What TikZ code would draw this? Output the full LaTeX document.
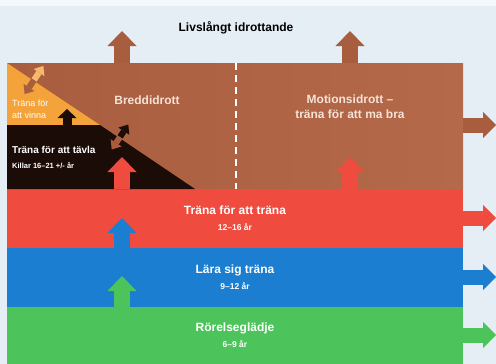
\documentclass[tikz,border=0pt]{standalone}
\usepackage{fontspec}
\setmainfont{Liberation Sans}
\usetikzlibrary{arrows.meta}
\definecolor{bakgrund}{HTML}{E6EEF5}
\definecolor{brun}{HTML}{A95D3F}
\definecolor{ljusbrun}{HTML}{B4694A}
\definecolor{rod}{HTML}{F04B3F}
\definecolor{bla}{HTML}{1B7ED0}
\definecolor{gron}{HTML}{4DC45B}
\definecolor{vinnaorange}{HTML}{F4A23A}
\definecolor{tavlasvart}{HTML}{1C0C08}
\definecolor{ljustext}{HTML}{F6E2D6}
\begin{document}
\begin{tikzpicture}[x=1pt,y=-1pt,
  band/.style={anchor=north west,minimum width=456pt,inner sep=0pt,outer sep=0pt,
    text=white,font=\bfseries\fontsize{12}{14}\selectfont,align=center},
  bigarr/.style={line width=16pt,-{Triangle[width=29pt,length=15pt,line width=0pt]}},
  midarr/.style={line width=9pt,-{Triangle[width=19pt,length=9pt,line width=0pt]}},
  sidearr/.style={line width=15pt,-{Triangle[width=26pt,length=13pt,line width=0pt]}},
  smallarr/.style={line width=6pt,-{Triangle[width=13pt,length=8pt,line width=0pt]}},
  brunlabel/.style={text=ljustext,font=\bfseries\fontsize{12}{15}\selectfont,align=center},
  smatext/.style={text=white,anchor=west,inner sep=0pt}]
\useasboundingbox (0,0) rectangle (496,364);
\fill[bakgrund] (0,0) rectangle (496,364);
\fill[white!60!bakgrund] (0,0) rectangle (496,6);
% bands
\node[band,left color=brun,right color=ljusbrun,minimum height=126pt] (bredd) at (7,63) {};
\node[band,fill=rod,minimum height=59pt] (tranatrana) at (7,189)
  {Träna för att träna\\[2pt]{\fontsize{8.5}{10}\selectfont 12--16 år}};
\node[band,fill=bla,minimum height=59pt] (lara) at (7,248)
  {Lära sig träna\\[2pt]{\fontsize{8.5}{10}\selectfont 9--12 år}};
\node[band,fill=gron,minimum height=57pt] (rorelse) at (7,307)
  {Rörelseglädje\\[2pt]{\fontsize{8.5}{10}\selectfont 6--9 år}};
% elit triangle
\fill[vinnaorange] (7,63) -- (100,125) -- (7,125) -- cycle;
\fill[tavlasvart] (7,125) -- (100,125) -- (195,189) -- (7,189) -- cycle;
\draw[white,line width=1.3pt,dash pattern=on 7pt off 5pt] (236,63) -- (236,189);
% texts
\node (titel) at (236,28) {\bfseries\fontsize{12}{14}\selectfont Livslångt idrottande};
\node[brunlabel] (bredtext) at (147,100) {Breddidrott};
\node[brunlabel] (motion) at (350,107) {Motionsidrott –\\träna för att ma bra};
\node[smatext,align=left,font=\fontsize{9}{12}\selectfont] (vinna) at (12,109) {Träna för\\att vinna};
\node[smatext,font=\bfseries\fontsize{10}{12}\selectfont] (tavla) at (12,150) {Träna för att tävla};
\node[smatext,font=\bfseries\fontsize{7.5}{9}\selectfont] (killar) at (12,165) {Killar 16--21 +/- år};
% arrow ends
\coordinate (bUa) at (122,31);
\coordinate (bUb) at (350,31);
\coordinate (vU) at (67,109);
\coordinate (rUa) at (122,157);
\coordinate (rUb) at (350,157);
\coordinate (blU) at (122,218);
\coordinate (gU) at (122,276);
\coordinate (bS) at (496,125);
\coordinate (rS) at (496,218);
\coordinate (blS) at (496,277);
\coordinate (gS) at (496,335);
% upward arrows
\draw[bigarr,brun] (bredd.north -| bUa) -- (bUa);
\draw[bigarr,brun] (bredd.north -| bUb) -- (bUb);
\draw[midarr,tavlasvart] (67,125) -- (vU);
\draw[bigarr,rod] (tranatrana.north -| rUa) -- (rUa);
\draw[bigarr,rod] (tranatrana.north -| rUb) -- (rUb);
\draw[bigarr,bla] (lara.north -| blU) -- (blU);
\draw[bigarr,gron] (rorelse.north -| gU) -- (gU);
% side arrows
\draw[sidearr,brun] (bredd.east |- bS) -- (bS);
\draw[sidearr,rod] (tranatrana.east |- rS) -- (rS);
\draw[sidearr,bla] (lara.east |- blS) -- (blS);
\draw[sidearr,gron] (rorelse.east |- gS) -- (gS);
% small crossing arrows
\coordinate (kA) at (34,80);
\coordinate (kB) at (120,137);
\draw[smallarr,vinnaorange!75!white] (kA) -- ++(9.4,-14.1);
\draw[smallarr,brun] (kA) -- ++(-9.4,14.1);
\draw[smallarr,tavlasvart] (kB) -- ++(8.3,-12.5);
\draw[smallarr,brun] (kB) -- ++(-8.3,12.5);
\end{tikzpicture}
\end{document}
